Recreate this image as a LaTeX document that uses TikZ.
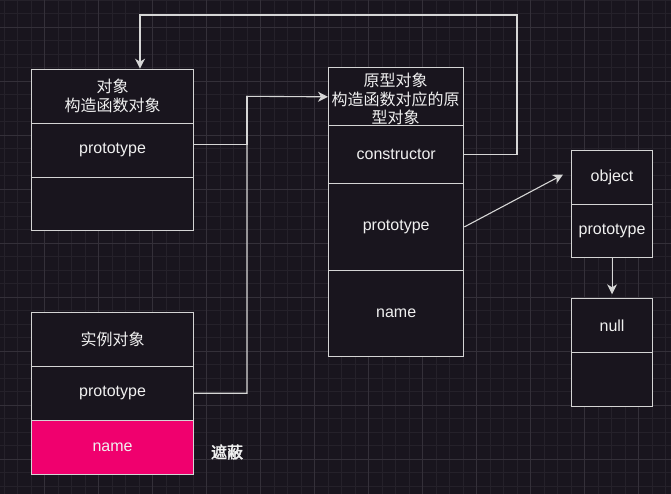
\documentclass[tikz,border=0pt]{standalone}
\usepackage{fontspec}
\setmainfont{Liberation Sans}
\newfontfamily\cjk{Noto Sans CJK SC}
\newfontfamily\cjkb[FakeBold=2.5]{Noto Sans CJK SC}
\usetikzlibrary{arrows.meta,calc}
\definecolor{bg}{RGB}{25,21,30}
\definecolor{gridminor}{RGB}{37,33,42}
\definecolor{gridmajor}{RGB}{52,48,57}
\definecolor{strk}{RGB}{212,212,212}
\definecolor{txt}{RGB}{240,240,240}
\definecolor{pink}{RGB}{240,0,110}
\tikzset{
  cell/.style={draw=strk, line width=1.1pt, fill=bg, anchor=north west, inner sep=0pt,
    text=txt, align=center, font=\fontsize{16}{19}\selectfont},
  conn/.style={draw=strk!95!white, line width=1.1pt},
  arr/.style={conn, -{Stealth[length=10pt,width=10pt,inset=3pt]}},
}
\begin{document}
\begin{tikzpicture}[x=1pt,y=-1pt]
\fill[bg] (0,0) rectangle (671,494);
\useasboundingbox (0,0) rectangle (671,494);
% grid
\foreach \i in {0,...,50} {
  \draw[gridminor, line width=0.6pt] ({4.2+13.5*\i},0) -- ({4.2+13.5*\i},494);
}
\foreach \i in {0,...,37} {
  \draw[gridminor, line width=0.6pt] (0,{13.5*\i}) -- (671,{13.5*\i});
}
\foreach \i in {0,...,12} {
  \draw[gridmajor, line width=0.8pt] ({44.7+54*\i},0) -- ({44.7+54*\i},494);
}
\foreach \i in {0,...,9} {
  \draw[gridmajor, line width=0.8pt] (0,{27+54*\i}) -- (671,{27+54*\i});
}
% top-left box
\node[cell, minimum width=162pt, minimum height=54.3pt] (a1) at (31,68.7) {\cjk 对象\\\cjk 构造函数对象};
\node[cell, minimum width=162pt, minimum height=53.7pt] (a2) at (31,123) {prototype};
\node[cell, minimum width=162pt, minimum height=53.6pt] (a3) at (31,176.7) {};
% bottom-left box
\node[cell, minimum width=162pt, minimum height=54pt] (b1) at (31,311.7) {\cjk 实例对象};
\node[cell, minimum width=162pt, minimum height=54pt] (b2) at (31,365.7) {prototype};
\node[cell, fill=pink, minimum width=162pt, minimum height=54.3pt] (b3) at (31,419.7) {name};
\node[text=txt, font=\fontsize{16}{19}\selectfont\cjkb] (mask) at (227,452) {遮蔽};
% middle box
\node[cell, minimum width=135.3pt, minimum height=58pt] (m1) at (328,67.3) {};
\node[text=txt, font=\fontsize{16}{18.3}\selectfont\cjk, align=center, inner sep=0pt] (m1t) at (395.6,99) {原型对象\\构造函数对应的原\\型对象};
\node[cell, minimum width=135.3pt, minimum height=57.7pt] (m2) at (328,125.3) {constructor};
\node[cell, minimum width=135.3pt, minimum height=86.7pt] (m3) at (328,183) {prototype};
\node[cell, minimum width=135.3pt, minimum height=86.3pt] (m4) at (328,269.7) {name};
% right boxes
\node[cell, minimum width=81pt, minimum height=54pt] (o1) at (571,149.7) {object};
\node[cell, minimum width=81pt, minimum height=53.6pt] (o2) at (571,203.7) {prototype};
\node[cell, minimum width=81pt, minimum height=53.7pt] (n1) at (571,298.3) {null};
\node[cell, minimum width=81pt, minimum height=54pt] (n2) at (571,352) {};
% connectors
\coordinate (k1) at (517,15);
\draw[arr] (m2.east) -| (k1) -| ([xshift=109pt]a1.north west);
\coordinate (jv) at (247,96.3);
\draw[conn] ([yshift=6pt]a2.east) -| (jv);
\draw[arr] (b2.east) -| (jv) -- (m1.west);
\draw[arr] (m3.east) -- ([xshift=-8pt,yshift=2.7pt]o1.west);
\draw[arr] (o2.south) -- ([yshift=4pt]n1.north);
\end{tikzpicture}
\end{document}
